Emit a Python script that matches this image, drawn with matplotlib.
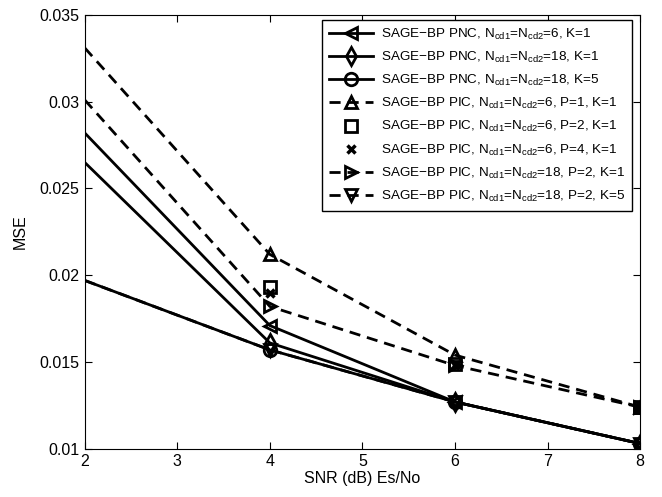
import numpy as np
import matplotlib.pyplot as plt

plt.rcParams['font.family'] = ['Liberation Sans', 'DejaVu Sans']
plt.rcParams['mathtext.default'] = 'regular'

snr = [2, 4, 6, 8]

# SAGE-BP PNC
pnc_n6_k1 = [0.0282, 0.0171, 0.0127, 0.0103]
pnc_n18_k1 = [0.0265, 0.0161, 0.0127, 0.0103]
pnc_n18_k5 = [0.0197, 0.0157, 0.0127, 0.0103]

# SAGE-BP PIC
pic_n6_p1_k1 = [0.0331, 0.0212, 0.0154, 0.0124]
pic_n6_p2_k1 = [0.0193, 0.0149, 0.0124]      # only 4, 6, 8 dB
pic_n6_p4_k1 = [0.0190, 0.0148, 0.0124]
pic_n18_p2_k1 = [0.0301, 0.0182, 0.0148, 0.0124]
pic_n18_p2_k5 = [0.0197, 0.0157, 0.0127, 0.0103]

sub = r'N$_{cd1}$=N$_{cd2}$'
labels = [
    'SAGE$-$BP PNC, ' + sub + '=6, K=1',
    'SAGE$-$BP PNC, ' + sub + '=18, K=1',
    'SAGE$-$BP PNC, ' + sub + '=18, K=5',
    'SAGE$-$BP PIC, ' + sub + '=6, P=1, K=1',
    'SAGE$-$BP PIC, ' + sub + '=6, P=2, K=1',
    'SAGE$-$BP PIC, ' + sub + '=6, P=4, K=1',
    'SAGE$-$BP PIC, ' + sub + '=18, P=2, K=1',
    'SAGE$-$BP PIC, ' + sub + '=18, P=2, K=5',
]

fig = plt.figure(figsize=(6.62, 4.97), dpi=100)
ax = fig.add_axes([0.128, 0.097, 0.839, 0.873])

kw = dict(color='k', lw=2, ms=9, mew=2, mfc='none', markevery=[1, 2, 3])
dash = (0, (4, 2.5))
ax.plot(snr, pnc_n6_k1, marker='<', ls='-', label=labels[0], **kw)
ax.plot(snr, pnc_n18_k1, marker='d', ls='-', label=labels[1], **kw)
ax.plot(snr, pnc_n18_k5, marker='o', ls='-', label=labels[2], **kw)
ax.plot(snr, pic_n6_p1_k1, marker='^', ls=dash, label=labels[3], **kw)
ax.plot(snr[1:], pic_n6_p2_k1, marker='s', ls='none', color='k', ms=9, mew=2,
        mfc='none', label=labels[4])
ax.plot(snr[1:], pic_n6_p4_k1, marker='x', ls='none', color='k', ms=6, mew=2.5,
        label=labels[5])
ax.plot(snr, pic_n18_p2_k1, marker='>', ls=dash, label=labels[6], **kw)
ax.plot(snr, pic_n18_p2_k5, marker='v', ls=dash, label=labels[7], **kw)

ax.set_xlim(2, 8)
ax.set_ylim(0.01, 0.035)
ax.set_xticks(np.arange(2, 9, 1))
ax.set_yticks([0.01, 0.015, 0.02, 0.025, 0.03, 0.035])
ax.set_yticklabels(['0.01', '0.015', '0.02', '0.025', '0.03', '0.035'])
ax.tick_params(direction='in', top=True, right=True, labelsize=11.5, length=5,
               pad=4)
ax.set_xlabel('SNR (dB) Es/No', fontsize=11.5, labelpad=1)
ax.set_ylabel('MSE', fontsize=11.5, labelpad=8)

leg = ax.legend(loc='upper right', bbox_to_anchor=(0.9856, 0.9885),
                borderaxespad=0, fontsize=9.7, handlelength=3.3,
                fancybox=False, framealpha=1, edgecolor='k',
                labelspacing=0.6, handletextpad=0.6, borderpad=0.5)
leg.get_frame().set_linewidth(1)

fig.savefig('out.png', dpi=100)
